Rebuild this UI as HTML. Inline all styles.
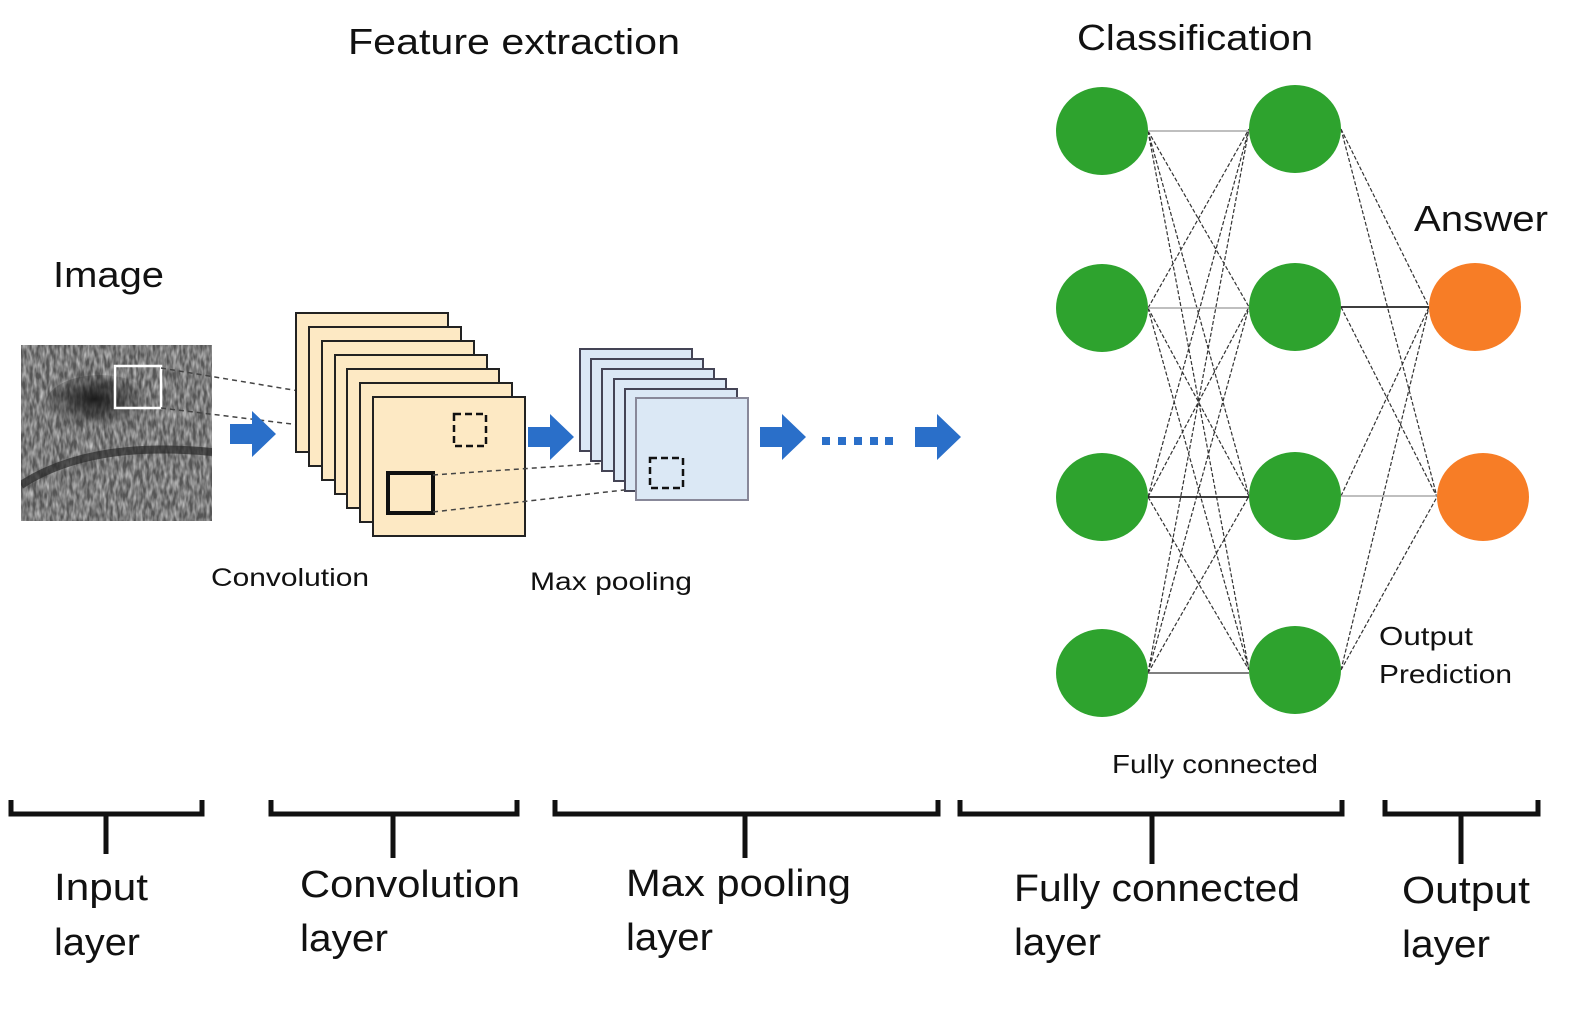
<!DOCTYPE html>
<html><head><meta charset="utf-8"><style>
html,body{margin:0;padding:0;background:#fff;}
svg{display:block;font-family:"Liberation Sans","DejaVu Sans",sans-serif;}
</style></head><body>
<svg width="1589" height="1011" viewBox="0 0 1589 1011" xmlns="http://www.w3.org/2000/svg">
<defs>
<filter id="noise" x="0" y="0" width="1" height="1"><feTurbulence type="fractalNoise" baseFrequency="0.3 0.1" numOctaves="2" seed="3"/><feColorMatrix type="matrix" values="0 0 0 0 0.55  0 0 0 0 0.55  0 0 0 0 0.55  0 0 0 1.6 -0.45"/></filter>
<radialGradient id="dark" cx="0.45" cy="0.4" r="0.5"><stop offset="0" stop-color="#1a1a1a"/><stop offset="1" stop-color="#1a1a1a" stop-opacity="0"/></radialGradient>
<clipPath id="imgclip"><rect x="21" y="345" width="191" height="176"/></clipPath>
</defs>
<text x="348" y="54" font-size="36" fill="#111" textLength="332" lengthAdjust="spacingAndGlyphs">Feature extraction</text>
<text x="1077" y="50" font-size="36" fill="#111" textLength="236" lengthAdjust="spacingAndGlyphs">Classification</text>
<text x="53" y="287" font-size="36" fill="#111" textLength="111" lengthAdjust="spacingAndGlyphs">Image</text>
<text x="1414" y="231" font-size="36" fill="#111" textLength="134" lengthAdjust="spacingAndGlyphs">Answer</text>
<!-- image -->
<g clip-path="url(#imgclip)">
<rect x="21" y="345" width="191" height="176" fill="#555"/>
<rect x="21" y="345" width="191" height="176" filter="url(#noise)"/>
<ellipse cx="100" cy="405" rx="55" ry="30" fill="url(#dark)"/>
<path d="M21 485 Q90 440 212 452" stroke="#2a2a2a" stroke-width="8" fill="none" opacity="0.7"/>
</g>
<rect x="115" y="366" width="46" height="42" fill="none" stroke="#fff" stroke-width="2.5"/>
<line x1="161" y1="368" x2="455" y2="417" stroke="#444" stroke-width="1.5" stroke-dasharray="5,4"/>
<line x1="161" y1="408" x2="455" y2="444" stroke="#444" stroke-width="1.5" stroke-dasharray="5,4"/>
<!-- arrows -->
<g fill="#2a6fc9">
<path d="M230 424h22v-13l24 23-24 23v-13h-22z"/>
<path d="M528 427h22v-13l24 23-24 23v-13h-22z"/>
<path d="M760 427h22v-13l24 23-24 23v-13h-22z"/>
<path d="M915 427h22v-13l24 23-24 23v-13h-22z"/>
<rect x="822" y="437" width="8" height="8"/><rect x="838" y="437" width="8" height="8"/><rect x="854" y="437" width="8" height="8"/><rect x="870" y="437" width="8" height="8"/><rect x="885" y="437" width="8" height="8"/>
</g>
<!-- conv stack -->
<g fill="#fde9c4" stroke="#222" stroke-width="2">
<rect x="296" y="313" width="152" height="139"/>
<rect x="309" y="327" width="152" height="139"/>
<rect x="322" y="341" width="152" height="139"/>
<rect x="335" y="355" width="152" height="139"/>
<rect x="347" y="369" width="152" height="139"/>
<rect x="360" y="383" width="152" height="139"/>
<rect x="373" y="397" width="152" height="139"/>
</g>
<rect x="454" y="414" width="32" height="32" fill="none" stroke="#111" stroke-width="2.5" stroke-dasharray="7,4"/>
<rect x="388" y="473" width="45" height="40" fill="none" stroke="#111" stroke-width="4"/>
<line x1="433" y1="475" x2="650" y2="460" stroke="#444" stroke-width="1.5" stroke-dasharray="5,4"/>
<line x1="433" y1="512" x2="650" y2="487" stroke="#444" stroke-width="1.5" stroke-dasharray="5,4"/>
<!-- pool stack -->
<g fill="#dbe8f5" stroke="#445" stroke-width="2">
<rect x="580" y="349" width="112" height="102"/>
<rect x="591" y="359" width="112" height="102"/>
<rect x="602" y="369" width="112" height="102"/>
<rect x="614" y="379" width="112" height="102"/>
<rect x="625" y="389" width="112" height="102"/>
<rect x="636" y="398" width="112" height="102" stroke="#889"/>
</g>
<rect x="650" y="458" width="33" height="30" fill="none" stroke="#111" stroke-width="2.5" stroke-dasharray="7,4"/>
<text x="211" y="586" font-size="25" fill="#111" textLength="158" lengthAdjust="spacingAndGlyphs">Convolution</text>
<text x="530" y="590" font-size="25" fill="#111" textLength="162" lengthAdjust="spacingAndGlyphs">Max pooling</text>
<!-- NN lines -->
<g stroke="#333" stroke-width="1.2" stroke-dasharray="4,2" fill="none">
<path d="M1148 131L1249 307M1148 131L1249 496M1148 131L1249 670
M1148 308L1249 129M1148 308L1249 496M1148 308L1249 670
M1148 497L1249 129M1148 497L1249 307M1148 497L1249 670
M1148 673L1249 129M1148 673L1249 307M1148 673L1249 496
M1341 129L1429 307M1341 129L1437 497M1341 307L1437 497
M1341 496L1429 307M1341 670L1429 307M1341 670L1437 497"/>
</g>
<g stroke="#aaa" stroke-width="1.5"><path d="M1148 131H1249M1148 308H1249M1341 496H1437"/></g>
<g stroke="#222" stroke-width="1.8"><path d="M1148 497H1249M1341 307H1429"/></g>
<g stroke="#555" stroke-width="1.5"><path d="M1148 673H1249"/></g>
<g fill="#2ea32e">
<ellipse cx="1102" cy="131" rx="46" ry="44"/><ellipse cx="1102" cy="308" rx="46" ry="44"/><ellipse cx="1102" cy="497" rx="46" ry="44"/><ellipse cx="1102" cy="673" rx="46" ry="44"/>
<ellipse cx="1295" cy="129" rx="46" ry="44"/><ellipse cx="1295" cy="307" rx="46" ry="44"/><ellipse cx="1295" cy="496" rx="46" ry="44"/><ellipse cx="1295" cy="670" rx="46" ry="44"/>
</g>
<g fill="#f77d26"><ellipse cx="1475" cy="307" rx="46" ry="44"/><ellipse cx="1483" cy="497" rx="46" ry="44"/></g>
<text x="1379" y="645" font-size="26" fill="#111" textLength="94" lengthAdjust="spacingAndGlyphs">Output</text>
<text x="1379" y="683" font-size="26" fill="#111" textLength="133" lengthAdjust="spacingAndGlyphs">Prediction</text>
<text x="1112" y="773" font-size="26" fill="#111" textLength="206" lengthAdjust="spacingAndGlyphs">Fully connected</text>
<!-- braces -->
<g stroke="#111" stroke-width="5" fill="none">
<path d="M11 800v14h191v-14M106 814v40"/>
<path d="M271 800v14h246v-14M393 814v44"/>
<path d="M555 800v14h383v-14M745 814v44"/>
<path d="M960 800v14h382v-14M1152 814v50"/>
<path d="M1385 800v14h153v-14M1461 814v50"/>
</g>
<g font-size="38" fill="#111">
<text x="54" y="900" textLength="94" lengthAdjust="spacingAndGlyphs">Input</text><text x="54" y="955" textLength="86" lengthAdjust="spacingAndGlyphs">layer</text>
<text x="300" y="897" textLength="220" lengthAdjust="spacingAndGlyphs">Convolution</text><text x="300" y="951" textLength="88" lengthAdjust="spacingAndGlyphs">layer</text>
<text x="626" y="896" textLength="225" lengthAdjust="spacingAndGlyphs">Max pooling</text><text x="626" y="950" textLength="87" lengthAdjust="spacingAndGlyphs">layer</text>
<text x="1014" y="901" textLength="286" lengthAdjust="spacingAndGlyphs">Fully connected</text><text x="1014" y="955" textLength="87" lengthAdjust="spacingAndGlyphs">layer</text>
<text x="1402" y="903" textLength="128" lengthAdjust="spacingAndGlyphs">Output</text><text x="1402" y="957" textLength="88" lengthAdjust="spacingAndGlyphs">layer</text>
</g>
</svg>
</body></html>
